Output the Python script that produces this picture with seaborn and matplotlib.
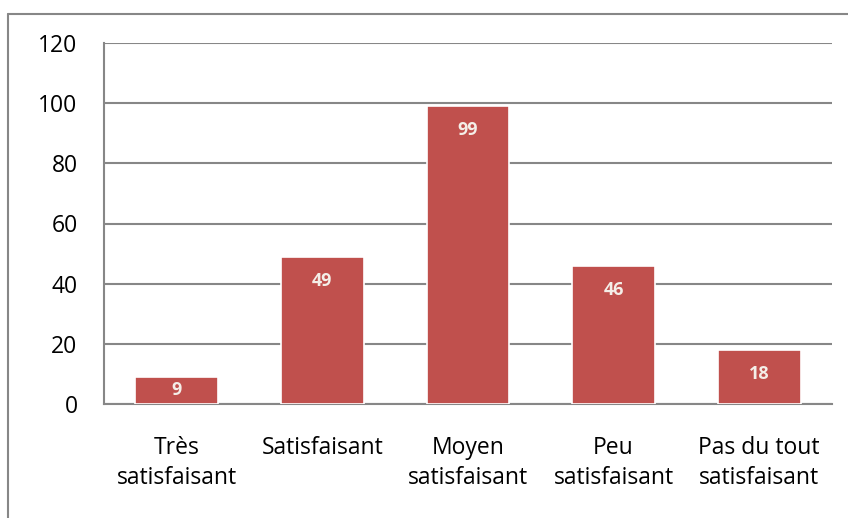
import numpy as np
import pandas as pd
import seaborn as sns
import matplotlib.pyplot as plt
from matplotlib.lines import Line2D

categories = ['Très\nsatisfaisant', 'Satisfaisant', 'Moyen\nsatisfaisant',
              'Peu\nsatisfaisant', 'Pas du tout\nsatisfaisant']
values = [9, 49, 99, 46, 18]
yticks = [0, 20, 40, 60, 80, 100, 120]

df = pd.DataFrame({'cat': categories, 'val': values})

sns.set_style('white')
plt.rcParams['font.family'] = ['Open Sans', 'DejaVu Sans']

fig = plt.figure(figsize=(8.48, 5.18), dpi=100)
ax = fig.add_axes([104 / 848, 1 - 404 / 518, (832 - 104) / 848, (404 - 43) / 518])

sns.barplot(data=df, x='cat', y='val', color='#C0504D', saturation=1,
            width=0.57, edgecolor='white', linewidth=1.2, ax=ax, zorder=3)

ax.set_ylim(0, 120)
ax.set_yticks(yticks)
ax.set_xlim(-0.5, len(categories) - 0.5)
ax.yaxis.grid(True, color='#878787', linewidth=1.5, zorder=0)
ax.set_axisbelow(True)
ax.set_xlabel('')
ax.set_ylabel('')
for s in ['top', 'right']:
    ax.spines[s].set_visible(False)
for s in ['left', 'bottom']:
    ax.spines[s].set_color('#878787')
    ax.spines[s].set_linewidth(1.5)
ax.tick_params(axis='both', length=0, labelsize=16.5, colors='#000000')
ax.tick_params(axis='y', pad=19)
ax.tick_params(axis='x', pad=23)
for lbl in ax.get_xticklabels():
    lbl.set_linespacing(1.35)

for i, v in enumerate(values):
    y = v - 8 if v > 15 else v / 2
    ax.text(i, y, str(v), ha='center', va='center', fontsize=13,
            fontweight='bold', color='#F4EEE8', zorder=5)

# outer chart border (top and left)
fig.add_artist(Line2D([8 / 848, 8 / 848], [0, 1 - 14 / 518], transform=fig.transFigure,
                      color='#878787', linewidth=1.5))
fig.add_artist(Line2D([8 / 848, 1], [1 - 14 / 518, 1 - 14 / 518], transform=fig.transFigure,
                      color='#878787', linewidth=1.5))

fig.savefig('out.png', dpi=100)
